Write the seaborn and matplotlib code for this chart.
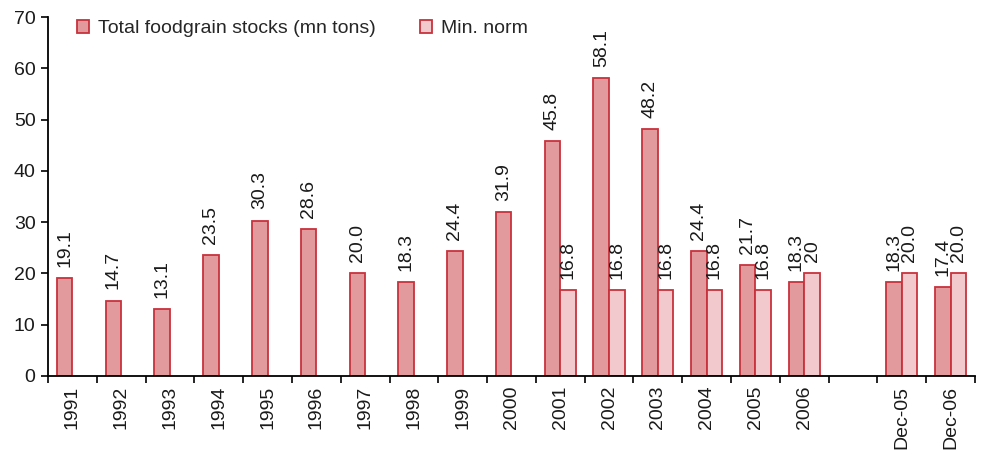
import numpy as np
import pandas as pd
import matplotlib
matplotlib.use("Agg")
import matplotlib.pyplot as plt
import seaborn as sns

# Categories (an empty slot separates the annual series from the December snapshots)
categories = ["1991", "1992", "1993", "1994", "1995", "1996", "1997", "1998",
              "1999", "2000", "2001", "2002", "2003", "2004", "2005", "2006",
              " ", "Dec-05", "Dec-06"]

total_stocks = [19.1, 14.7, 13.1, 23.5, 30.3, 28.6, 20.0, 18.3,
                24.4, 31.9, 45.8, 58.1, 48.2, 24.4, 21.7, 18.3,
                np.nan, 18.3, 17.4]
min_norm = [np.nan, np.nan, np.nan, np.nan, np.nan, np.nan, np.nan, np.nan,
            np.nan, np.nan, 16.8, 16.8, 16.8, 16.8, 16.8, 20.0,
            np.nan, 20.0, 20.0]
min_norm_labels = ["", "", "", "", "", "", "", "", "", "",
                   "16.8", "16.8", "16.8", "16.8", "16.8", "20",
                   "", "20.0", "20.0"]

series_names = ["Total foodgrain stocks (mn tons)", "Min. norm"]

rows = []
for cat, t, m, ml in zip(categories, total_stocks, min_norm, min_norm_labels):
    if not np.isnan(t):
        rows.append((cat, series_names[0], t, f"{t:.1f}"))
    if not np.isnan(m):
        rows.append((cat, series_names[1], m, ml))
df = pd.DataFrame(rows, columns=["category", "series", "value", "label"])

sns.set_theme(style="white")
plt.rcParams["font.family"] = ["Liberation Sans", "DejaVu Sans"]

fig = plt.figure(figsize=(9.83, 4.51), dpi=100)
ax = fig.add_axes([48 / 983, 1 - 376 / 451, (975 - 48) / 983, (376 - 17) / 451])

edge = "#C8323C"
palette = {series_names[0]: "#E39A9D", series_names[1]: "#F2C9CC"}

sns.barplot(data=df, x="category", y="value", hue="series",
            order=categories, hue_order=series_names, palette=palette,
            width=0.64, edgecolor=edge, linewidth=1.3, saturation=1,
            errorbar=None, ax=ax)

# Value labels above each bar, rotated
for container, name in zip(ax.containers, series_names):
    sub = df[df["series"] == name].set_index("category")
    labels = [sub.loc[c, "label"] for c in categories if c in sub.index]
    ax.bar_label(container, labels=labels, rotation=90, padding=8,
                 fontsize=14, color="#1a1a1a")

ax.set_ylim(0, 70)
ax.set_xlim(-0.5, len(categories) - 0.5)
ax.set_yticks(range(0, 71, 10))
ax.set_xlabel("")
ax.set_ylabel("")

# Category labels at centres, tick marks at slot boundaries
ax.set_xticks(range(len(categories)))
ax.set_xticklabels(categories, rotation=90, fontsize=14, color="#1a1a1a")
ax.tick_params(axis="x", which="major", length=0, pad=7)
ax.set_xticks(np.arange(-0.5, len(categories), 1.0), minor=True)
ax.tick_params(axis="x", which="minor", direction="out", length=5,
               width=1.2, color="black", bottom=True)
ax.tick_params(axis="y", direction="out", length=5, width=1.2,
               color="black", left=True, labelsize=14, labelcolor="#1a1a1a", pad=4)

for side in ["top", "right"]:
    ax.spines[side].set_visible(False)
for side in ["left", "bottom"]:
    ax.spines[side].set_color("black")
    ax.spines[side].set_linewidth(1.3)

ax.legend(loc="center left", bbox_to_anchor=(0.031, 0.967), ncol=2,
          frameon=False, fontsize=14, handlelength=0.62, handleheight=0.62,
          handletextpad=0.45, columnspacing=2.3, borderaxespad=0,
          borderpad=0)

fig.savefig("out.png", dpi=100)
